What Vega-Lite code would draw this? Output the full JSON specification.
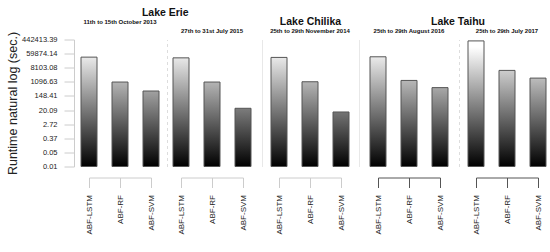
{
  "$schema": "https://vega.github.io/schema/vega-lite/v6.json",
  "padding": {"left": 6, "top": 7.5, "right": 0, "bottom": 0},
  "background": "white",
  "data": {"values": [
    {"lake": "Lake Erie", "period": "11th to 15th October 2013", "model": "ABF-LSTM", "runtime": 36316},
    {"lake": "Lake Erie", "period": "11th to 15th October 2013", "model": "ABF-RF", "runtime": 1064},
    {"lake": "Lake Erie", "period": "11th to 15th October 2013", "model": "ABF-SVM", "runtime": 299},
    {"lake": "Lake Erie", "period": "27th to 31st July 2015", "model": "ABF-LSTM", "runtime": 32860},
    {"lake": "Lake Erie", "period": "27th to 31st July 2015", "model": "ABF-RF", "runtime": 1064},
    {"lake": "Lake Erie", "period": "27th to 31st July 2015", "model": "ABF-SVM", "runtime": 25.8},
    {"lake": "Lake Chilika", "period": "25th to 29th  November 2014", "model": "ABF-LSTM", "runtime": 34891},
    {"lake": "Lake Chilika", "period": "25th to 29th  November 2014", "model": "ABF-RF", "runtime": 1108},
    {"lake": "Lake Chilika", "period": "25th to 29th  November 2014", "model": "ABF-SVM", "runtime": 15.3},
    {"lake": "Lake Taihu", "period": "25th to 29th August  2016", "model": "ABF-LSTM", "runtime": 38177},
    {"lake": "Lake Taihu", "period": "25th to 29th August  2016", "model": "ABF-RF", "runtime": 1339},
    {"lake": "Lake Taihu", "period": "25th to 29th August  2016", "model": "ABF-SVM", "runtime": 483},
    {"lake": "Lake Taihu", "period": "25th to 29th July  2017", "model": "ABF-LSTM", "runtime": 362217},
    {"lake": "Lake Taihu", "period": "25th to 29th July  2017", "model": "ABF-RF", "runtime": 5541},
    {"lake": "Lake Taihu", "period": "25th to 29th July  2017", "model": "ABF-SVM", "runtime": 1863}
  ]},
  "spacing": 10,
  "bounds": "full",
  "hconcat": [
    {
      "title": {"text": "Lake Erie", "fontSize": 10.5, "fontWeight": "bold", "frame": "bounds", "anchor": "middle", "offset": 0.5, "dx": 36},
      "spacing": 5,
      "bounds": "full",
      "hconcat": [
        {
          "title": {"text": "11th to 15th October 2013"},
          "width": 62, "height": 127,
          "transform": [{"filter": "datum.period === '11th to 15th October 2013'"}],
          "encoding": {"x": {"field": "model", "type": "nominal", "sort": ["ABF-LSTM", "ABF-RF", "ABF-SVM"], "scale": {"type": "point", "padding": 0}, "axis": {"domainColor": "#cccccc", "tickColor": "#cccccc"}}},
          "layer": [
            {"mark": {"type": "bar", "width": 16, "fill": {"gradient": "linear", "x1": 0, "y1": 0, "x2": 0, "y2": 1, "stops": [{"offset": 0, "color": "#ffffff"}, {"offset": 0.06, "color": "#ffffff"}, {"offset": 1, "color": "#000000"}]}},
             "encoding": {"y": {"datum": 442413.392, "type": "quantitative", "scale": {"type": "log", "base": 2.718281828459045, "domain": [0.006737947, 442413.392], "nice": false},
               "axis": {"orient": "left", "values": [0.006737947, 0.049787068, 0.367879441, 2.718281828, 20.08553692, 148.4131591, 1096.633158, 8103.083928, 59874.14172, 442413.392], "format": ".2f", "offset": 15, "tickSize": 10, "labelPadding": 7, "labelFontSize": 7.5, "labelColor": "#222222", "domainColor": "#cccccc", "tickColor": "#cccccc", "grid": false, "title": "Runtime natural log (sec.)", "titleFontSize": 12.5, "titleFontWeight": "normal", "titleColor": "#222222", "titlePadding": 2}},
               "y2": {"datum": 0.006737947}}},
            {"mark": {"type": "bar", "width": 18, "fill": "#ffffff"}, "encoding": {"y": {"field": "runtime", "type": "quantitative", "axis": null}, "y2": {"datum": 442413.392}}},
            {"mark": {"type": "bar", "width": 16, "fill": "#ffffff", "fillOpacity": 0, "stroke": "#555555", "strokeWidth": 1},
             "encoding": {"y": {"field": "runtime", "type": "quantitative", "axis": {"orient": "right", "offset": 16, "labels": false, "ticks": false, "title": null, "grid": false, "domainColor": "#dddddd", "domainDash": [3, 3]}}, "y2": {"datum": 0.006737947}}}
          ],
          "resolve": {"axis": {"y": "independent"}}
        },
        {
          "title": {"text": "27th to 31st July 2015"},
          "width": 62, "height": 127,
          "transform": [{"filter": "datum.period === '27th to 31st July 2015'"}],
          "encoding": {"x": {"field": "model", "type": "nominal", "sort": ["ABF-LSTM", "ABF-RF", "ABF-SVM"], "scale": {"type": "point", "padding": 0}, "axis": {"domainColor": "#cccccc", "tickColor": "#cccccc"}}},
          "layer": [
            {"mark": {"type": "bar", "width": 16, "fill": {"gradient": "linear", "x1": 0, "y1": 0, "x2": 0, "y2": 1, "stops": [{"offset": 0, "color": "#ffffff"}, {"offset": 0.06, "color": "#ffffff"}, {"offset": 1, "color": "#000000"}]}},
             "encoding": {"y": {"datum": 442413.392, "type": "quantitative", "scale": {"type": "log", "base": 2.718281828459045, "domain": [0.006737947, 442413.392], "nice": false}, "axis": null}, "y2": {"datum": 0.006737947}}},
            {"mark": {"type": "bar", "width": 18, "fill": "#ffffff"}, "encoding": {"y": {"field": "runtime", "type": "quantitative", "axis": null}, "y2": {"datum": 442413.392}}},
            {"mark": {"type": "bar", "width": 16, "fill": "#ffffff", "fillOpacity": 0, "stroke": "#555555", "strokeWidth": 1},
             "encoding": {"y": {"field": "runtime", "type": "quantitative", "axis": null}, "y2": {"datum": 0.006737947}}}
          ]
        }
      ]
    },
    {
      "title": {"text": "Lake Chilika", "fontSize": 10.5, "fontWeight": "bold", "frame": "bounds", "anchor": "middle", "offset": 0.5},
      "bounds": "full",
      "hconcat": [
        {
          "title": {"text": "25th to 29th  November 2014"},
          "width": 62, "height": 127,
          "transform": [{"filter": "datum.period === '25th to 29th  November 2014'"}],
          "encoding": {"x": {"field": "model", "type": "nominal", "sort": ["ABF-LSTM", "ABF-RF", "ABF-SVM"], "scale": {"type": "point", "padding": 0}, "axis": {"domainColor": "#cccccc", "tickColor": "#cccccc"}}},
          "layer": [
            {"mark": {"type": "bar", "width": 16, "fill": {"gradient": "linear", "x1": 0, "y1": 0, "x2": 0, "y2": 1, "stops": [{"offset": 0, "color": "#ffffff"}, {"offset": 0.06, "color": "#ffffff"}, {"offset": 1, "color": "#000000"}]}},
             "encoding": {"y": {"datum": 442413.392, "type": "quantitative", "scale": {"type": "log", "base": 2.718281828459045, "domain": [0.006737947, 442413.392], "nice": false}, "axis": {"orient": "left", "offset": 17, "labels": false, "ticks": false, "title": null, "grid": false, "domainColor": "#e8e8e8"}}, "y2": {"datum": 0.006737947}}},
            {"mark": {"type": "bar", "width": 18, "fill": "#ffffff"}, "encoding": {"y": {"field": "runtime", "type": "quantitative", "axis": null}, "y2": {"datum": 442413.392}}},
            {"mark": {"type": "bar", "width": 16, "fill": "#ffffff", "fillOpacity": 0, "stroke": "#555555", "strokeWidth": 1},
             "encoding": {"y": {"field": "runtime", "type": "quantitative", "axis": {"orient": "right", "offset": 18, "labels": false, "ticks": false, "title": null, "grid": false, "domainColor": "#e8e8e8"}}, "y2": {"datum": 0.006737947}}}
          ],
          "resolve": {"axis": {"y": "independent"}}
        }
      ]
    },
    {
      "title": {"text": "Lake Taihu", "fontSize": 10.5, "fontWeight": "bold", "frame": "bounds", "anchor": "middle", "offset": 0.5},
      "spacing": 8,
      "bounds": "full",
      "hconcat": [
        {
          "title": {"text": "25th to 29th August  2016"},
          "width": 62, "height": 127,
          "transform": [{"filter": "datum.period === '25th to 29th August  2016'"}],
          "encoding": {"x": {"field": "model", "type": "nominal", "sort": ["ABF-LSTM", "ABF-RF", "ABF-SVM"], "scale": {"type": "point", "padding": 0}, "axis": {"domainColor": "#555555", "tickColor": "#555555"}}},
          "layer": [
            {"mark": {"type": "bar", "width": 16, "fill": {"gradient": "linear", "x1": 0, "y1": 0, "x2": 0, "y2": 1, "stops": [{"offset": 0, "color": "#ffffff"}, {"offset": 0.06, "color": "#ffffff"}, {"offset": 1, "color": "#000000"}]}},
             "encoding": {"y": {"datum": 442413.392, "type": "quantitative", "scale": {"type": "log", "base": 2.718281828459045, "domain": [0.006737947, 442413.392], "nice": false}, "axis": null}, "y2": {"datum": 0.006737947}}},
            {"mark": {"type": "bar", "width": 18, "fill": "#ffffff"}, "encoding": {"y": {"field": "runtime", "type": "quantitative", "axis": null}, "y2": {"datum": 442413.392}}},
            {"mark": {"type": "bar", "width": 16, "fill": "#ffffff", "fillOpacity": 0, "stroke": "#555555", "strokeWidth": 1},
             "encoding": {"y": {"field": "runtime", "type": "quantitative", "axis": {"orient": "right", "offset": 19, "labels": false, "ticks": false, "title": null, "grid": false, "domainColor": "#dddddd", "domainDash": [3, 3]}}, "y2": {"datum": 0.006737947}}}
          ],
          "resolve": {"axis": {"y": "independent"}}
        },
        {
          "title": {"text": "25th to 29th July  2017"},
          "width": 62, "height": 127,
          "transform": [{"filter": "datum.period === '25th to 29th July  2017'"}],
          "encoding": {"x": {"field": "model", "type": "nominal", "sort": ["ABF-LSTM", "ABF-RF", "ABF-SVM"], "scale": {"type": "point", "padding": 0}, "axis": {"domainColor": "#555555", "tickColor": "#555555"}}},
          "layer": [
            {"mark": {"type": "bar", "width": 16, "fill": {"gradient": "linear", "x1": 0, "y1": 0, "x2": 0, "y2": 1, "stops": [{"offset": 0, "color": "#ffffff"}, {"offset": 0.06, "color": "#ffffff"}, {"offset": 1, "color": "#000000"}]}},
             "encoding": {"y": {"datum": 442413.392, "type": "quantitative", "scale": {"type": "log", "base": 2.718281828459045, "domain": [0.006737947, 442413.392], "nice": false}, "axis": null}, "y2": {"datum": 0.006737947}}},
            {"mark": {"type": "bar", "width": 18, "fill": "#ffffff"}, "encoding": {"y": {"field": "runtime", "type": "quantitative", "axis": null}, "y2": {"datum": 442413.392}}},
            {"mark": {"type": "bar", "width": 16, "fill": "#ffffff", "fillOpacity": 0, "stroke": "#555555", "strokeWidth": 1},
             "encoding": {"y": {"field": "runtime", "type": "quantitative", "axis": null}, "y2": {"datum": 0.006737947}}}
          ]
        }
      ]
    }
  ],
  "config": {
    "font": "Liberation Sans",
    "view": {"stroke": null},
    "title": {"font": "Liberation Sans", "fontSize": 6, "fontWeight": "bold", "color": "#111111", "offset": 6, "frame": "group"},
    "axisX": {"title": null, "labelAngle": -90, "labelFontSize": 8, "labelColor": "#222222", "labelPadding": 7, "tickSize": 10, "offset": 11, "grid": false, "labelFont": "Liberation Sans"},
    "axis": {"labelFont": "Liberation Sans", "titleFont": "Liberation Sans"}
  }
}
